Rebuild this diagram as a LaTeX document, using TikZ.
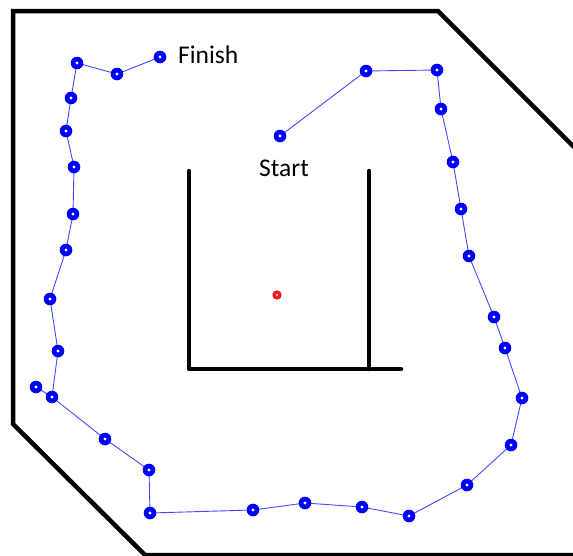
\documentclass[tikz,border=0pt]{standalone}
\usepackage{fontspec}
\setmainfont{Carlito}
\definecolor{edgeblue}{RGB}{70,70,255}
\definecolor{goalred}{RGB}{237,28,36}
\begin{document}
\begin{tikzpicture}[x=1pt,y=-1pt,
  wall/.style={line width=4.5pt,black,line cap=round,line join=round},
  frame/.style={line width=4.5pt,black,line join=miter},
  edge/.style={line width=0.9pt,color=edgeblue},
  lbl/.style={font=\fontsize{25.5}{30}\selectfont,inner sep=0pt,anchor=base west}]
\useasboundingbox (0,0) rectangle (573,555);
% outer frame
\draw[frame] (600,173) -- (438,11) -- (13,11) -- (13,424) -- (145,555) -- (600,555);
% inner walls
\draw[wall] (189,171) -- (189,369) -- (401,369);
\draw[wall] (369,171) -- (369,369);
% tree points
\coordinate (s) at (280,136);
\coordinate (p1) at (366,71);
\coordinate (p2) at (437,70);
\coordinate (p3) at (441,109);
\coordinate (p4) at (453,162);
\coordinate (p5) at (461,209);
\coordinate (p6) at (469,256);
\coordinate (p7) at (494,317);
\coordinate (p8) at (505,348);
\coordinate (p9) at (522,398);
\coordinate (p10) at (511,445);
\coordinate (p11) at (467,485);
\coordinate (p12) at (409,516);
\coordinate (p13) at (362,507);
\coordinate (p14) at (305,503);
\coordinate (p15) at (253,510);
\coordinate (p16) at (150,513);
\coordinate (p17) at (149,470);
\coordinate (p18) at (105,439);
\coordinate (p19) at (52,397);
\coordinate (b1) at (36,387);
\coordinate (p20) at (58,351);
\coordinate (p21) at (50,299);
\coordinate (p22) at (66,250);
\coordinate (p23) at (73,214);
\coordinate (p24) at (74,167);
\coordinate (p25) at (66,131);
\coordinate (p26) at (71,98);
\coordinate (p27) at (77,63);
\coordinate (p28) at (117,74);
\coordinate (f) at (160,57);
\draw[edge] (s) -- (p1) -- (p2) -- (p3) -- (p4) -- (p5) -- (p6) -- (p7) -- (p8) -- (p9) -- (p10) -- (p11) -- (p12) -- (p13) -- (p14) -- (p15) -- (p16) -- (p17) -- (p18) -- (p19) -- (p20) -- (p21) -- (p22) -- (p23) -- (p24) -- (p25) -- (p26) -- (p27) -- (p28) -- (f);
\draw[edge] (p19) -- (b1);
\foreach \p in {s,p1,p2,p3,p4,p5,p6,p7,p8,p9,p10,p11,p12,p13,p14,p15,p16,p17,p18,p19,b1,p20,p21,p22,p23,p24,p25,p26,p27,p28,f}{
  \fill[blue] (\p) circle[radius=6.3];
  \fill[white] (\p) circle[radius=1.6];
}
% goal/centre point
\coordinate (g) at (277,295);
\fill[goalred] (g) circle[radius=4.7];
\fill[white] (g) circle[radius=1.2];
% labels
\node[lbl] (finish) at (178,63) {Finish};
\node[lbl] (start) at (259,176) {Start};
\end{tikzpicture}
\end{document}
